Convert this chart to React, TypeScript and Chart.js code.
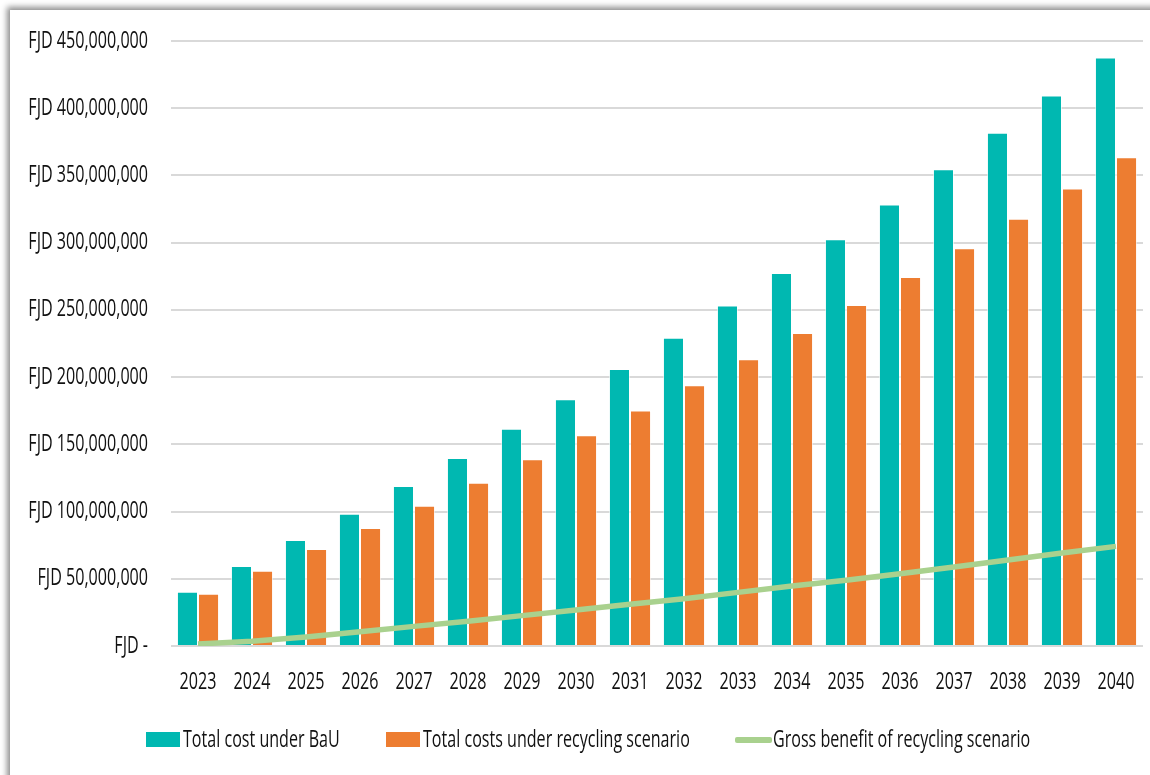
import { useEffect, useRef } from "react";
import { Chart, registerables } from "chart.js";

Chart.register(...registerables);

// Years on the category axis
const years = [
  "2023", "2024", "2025", "2026", "2027", "2028", "2029", "2030", "2031",
  "2032", "2033", "2034", "2035", "2036", "2037", "2038", "2039", "2040",
];

// Total cost under business-as-usual (FJD)
const bauCost = [
  40.4e6, 59.5e6, 78.9e6, 98.4e6, 119.0e6, 139.9e6, 161.5e6, 183.5e6, 206.1e6,
  229.2e6, 253.2e6, 277.5e6, 302.6e6, 328.3e6, 354.7e6, 381.7e6, 409.4e6, 437.7e6,
];

// Total costs under the recycling scenario (FJD)
const recyclingCost = [
  38.9e6, 56.0e6, 72.2e6, 87.8e6, 104.4e6, 121.5e6, 138.9e6, 156.8e6, 175.1e6,
  194.0e6, 213.3e6, 232.9e6, 253.7e6, 274.5e6, 295.9e6, 317.7e6, 340.2e6, 363.6e6,
];

// Gross benefit of the recycling scenario (FJD)
const grossBenefit = [
  1.5e6, 3.5e6, 6.7e6, 10.6e6, 14.6e6, 18.4e6, 22.6e6, 26.7e6, 31.0e6,
  35.2e6, 39.9e6, 44.6e6, 48.9e6, 53.8e6, 58.8e6, 64.0e6, 69.2e6, 74.1e6,
];

// Value axis ticks
const yTickValues = [0, 50e6, 100e6, 150e6, 200e6, 250e6, 300e6, 350e6, 400e6, 450e6];

const seriesNames = [
  "Total cost under BaU",
  "Total costs under recycling scenario",
  "Gross benefit of recycling scenario",
];

const TEAL = "#00B8B1";
const ORANGE = "#ED7D31";
const GREEN = "#A9D18E";
const TEXT = "#111111";
const FONT_FAMILY = '"Open Sans", "Noto Sans", sans-serif';
const AXIS_FONT = `23px ${FONT_FAMILY}`;
const SQUEEZE = 0.7; // horizontal compression of the narrow label face
const LEGEND_SQUEEZE = 0.67;

const formatFjd = (v: number) =>
  v === 0 ? "FJD -" : "FJD " + Math.round(v).toLocaleString("en-US");

// Draws the axis labels in a condensed style
const condensedLabels = {
  id: "condensedLabels",
  afterDraw(chart: any) {
    const { ctx, scales } = chart;
    const drawText = (text: string, x: number, y: number, align: CanvasTextAlign) => {
      ctx.save();
      ctx.translate(x, y);
      ctx.scale(SQUEEZE, 1);
      ctx.font = AXIS_FONT;
      ctx.fillStyle = TEXT;
      ctx.textAlign = align;
      ctx.textBaseline = "middle";
      ctx.fillText(text, 0, 0);
      ctx.restore();
    };
    const y = scales.y;
    y.ticks.forEach((t: any, i: number) => {
      drawText(formatFjd(t.value), y.right - 23, y.getPixelForTick(i), "right");
    });
    const x = scales.x;
    x.ticks.forEach((_t: any, i: number) => {
      drawText(String(chart.data.labels[i]), x.getPixelForTick(i), x.top + 36, "center");
    });
  },
};

export default function App() {
  const canvasRef = useRef<HTMLCanvasElement | null>(null);

  useEffect(() => {
    const canvas = canvasRef.current;
    if (!canvas) return;
    const chart = new Chart(canvas, {
      type: "bar",
      data: {
        labels: years,
        datasets: [
          {
            type: "line",
            label: seriesNames[2],
            data: grossBenefit,
            borderColor: GREEN,
            backgroundColor: GREEN,
            borderWidth: 5.5,
            pointRadius: 0,
            tension: 0,
            order: 0,
          },
          {
            type: "bar",
            label: seriesNames[0],
            data: bauCost,
            backgroundColor: TEAL,
            borderColor: "rgba(255,255,255,0.6)",
            borderWidth: 1,
            categoryPercentage: 0.78,
            barPercentage: 1,
            order: 1,
          },
          {
            type: "bar",
            label: seriesNames[1],
            data: recyclingCost,
            backgroundColor: ORANGE,
            borderColor: "rgba(255,255,255,0.6)",
            borderWidth: 1,
            categoryPercentage: 0.78,
            barPercentage: 1,
            order: 1,
          },
        ],
      },
      options: {
        responsive: false,
        animation: false,
        devicePixelRatio: 1,
        layout: { padding: { top: 41, right: 7, bottom: 0, left: 0 } },
        plugins: {
          legend: { display: false },
          tooltip: { enabled: false },
        },
        scales: {
          x: {
            grid: { display: false, drawTicks: false },
            border: { display: false },
            ticks: { display: false, autoSkip: false },
            afterFit: (scale: any) => {
              scale.height = 129;
            },
          },
          y: {
            min: 0,
            max: 450e6,
            afterBuildTicks: (scale: any) => {
              scale.ticks = yTickValues.map((v) => ({ value: v }));
            },
            grid: { color: "#D9D9D9", lineWidth: 2, drawTicks: false },
            border: { display: false },
            ticks: { display: false },
            afterFit: (scale: any) => {
              scale.width = 171;
            },
          },
        },
      },
      plugins: [condensedLabels],
    });
    return () => chart.destroy();
  }, []);

  const legendText: React.CSSProperties = {
    position: "absolute",
    top: 722,
    fontFamily: FONT_FAMILY,
    fontSize: 24,
    lineHeight: "32px",
    color: TEXT,
    whiteSpace: "nowrap",
    transform: `scaleX(${LEGEND_SQUEEZE})`,
    transformOrigin: "left center",
  };

  return (
    <div
      style={{
        position: "fixed",
        left: 0,
        top: 0,
        width: 1150,
        height: 775,
        background: "#fff",
        overflow: "hidden",
      }}
    >
      <div
        style={{
          position: "absolute",
          left: 10,
          top: 10,
          width: 1160,
          height: 790,
          background: "#fff",
          boxShadow: "-3px -3px 6px rgba(0,0,0,0.45)",
        }}
      />
      <canvas
        ref={canvasRef}
        width={1150}
        height={775}
        style={{ position: "absolute", left: 0, top: 0, width: 1150, height: 775 }}
      />
      <div style={{ position: "absolute", left: 146, top: 732, width: 34, height: 15, background: TEAL }} />
      <span style={{ ...legendText, left: 183 }}>{seriesNames[0]}</span>
      <div style={{ position: "absolute", left: 386, top: 732, width: 34, height: 15, background: ORANGE }} />
      <span style={{ ...legendText, left: 423 }}>{seriesNames[1]}</span>
      <div style={{ position: "absolute", left: 735, top: 737, width: 37, height: 5.5, background: GREEN, borderRadius: 2 }} />
      <span style={{ ...legendText, left: 773 }}>{seriesNames[2]}</span>
    </div>
  );
}
